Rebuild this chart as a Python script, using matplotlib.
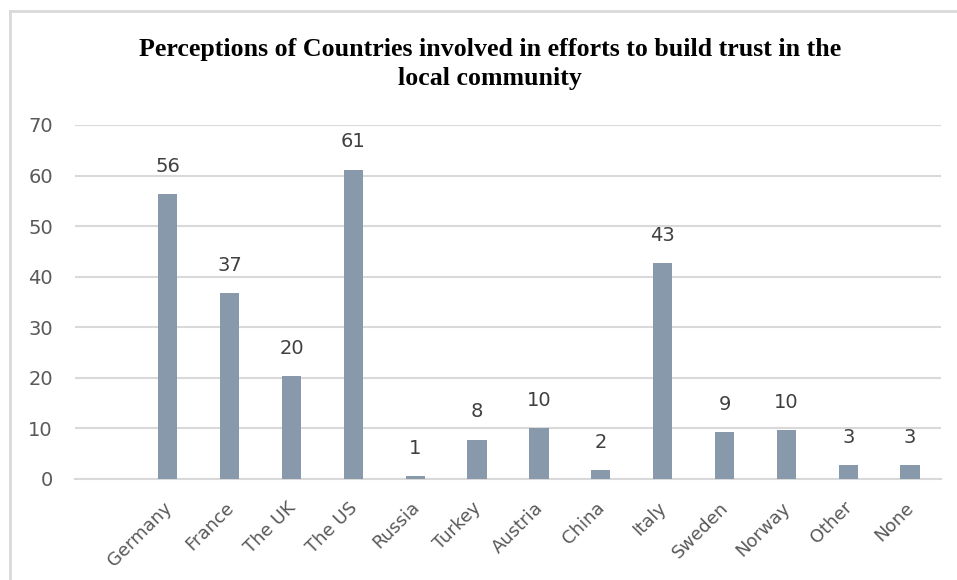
import matplotlib
matplotlib.use("Agg")
import matplotlib.pyplot as plt
import matplotlib.transforms as mtransforms
from matplotlib.lines import Line2D
import numpy as np

countries = ["Germany", "France", "The UK", "The US", "Russia", "Turkey", "Austria",
             "China", "Italy", "Sweden", "Norway", "Other", "None"]
values = [56.4, 36.8, 20.4, 61.2, 0.6, 7.8, 10.1, 1.8, 42.7, 9.3, 9.7, 2.8, 2.8]
y_ticks = [0, 10, 20, 30, 40, 50, 60, 70]

title = "Perceptions of Countries involved in efforts to build trust in the\nlocal community"

bar_color = "#8799ab"
grid_color = "#d9d9d9"
text_color = "#595959"

fig = plt.figure(figsize=(9.57, 5.8), dpi=100)
ax = fig.add_axes([75 / 957, 1 - 479 / 580, 866 / 957, 354 / 580])

x = np.arange(len(countries))
bars = ax.bar(x, values, width=0.31, color=bar_color, zorder=3)

for b, v in zip(bars, values):
    ax.annotate(f"{v:.0f}", (b.get_x() + b.get_width() / 2, v),
                xytext=(0, 13), textcoords="offset points",
                ha="center", va="bottom", fontsize=14, color="#404040")

ax.set_xlim(-1.5, len(countries) - 0.5)
ax.set_ylim(0, 70)
ax.set_yticks(y_ticks)
ax.set_xticks(x)
ax.set_xticklabels(countries, rotation=45, ha="right", rotation_mode="anchor")
ax.tick_params(axis="y", length=0, pad=16, labelsize=14, labelcolor=text_color)
ax.tick_params(axis="x", length=0, pad=14, labelsize=13, labelcolor=text_color)

# nudge the slanted category names a little to the left
shift = mtransforms.ScaledTranslation(-5 / 100, 0, fig.dpi_scale_trans)
for lbl in ax.get_xticklabels():
    lbl.set_transform(lbl.get_transform() + shift)

ax.grid(axis="y", color=grid_color, linewidth=1.5, zorder=0)
for side in ["top", "right", "left"]:
    ax.spines[side].set_visible(False)
ax.spines["bottom"].set_color(grid_color)
ax.spines["bottom"].set_linewidth(1.5)

fig.text(490 / 957, 1 - 64 / 580, title, ha="center", va="center",
         fontsize=18.6, fontweight="bold", family="Liberation Serif",
         linespacing=1.38, color="black")

# light frame on the left and top edges
fig.add_artist(Line2D([10 / 957, 10 / 957], [0, 1 - 11 / 580], color=grid_color, linewidth=2))
fig.add_artist(Line2D([10 / 957, 1], [1 - 11 / 580, 1 - 11 / 580], color=grid_color, linewidth=2))

fig.savefig("out.png", dpi=100)
